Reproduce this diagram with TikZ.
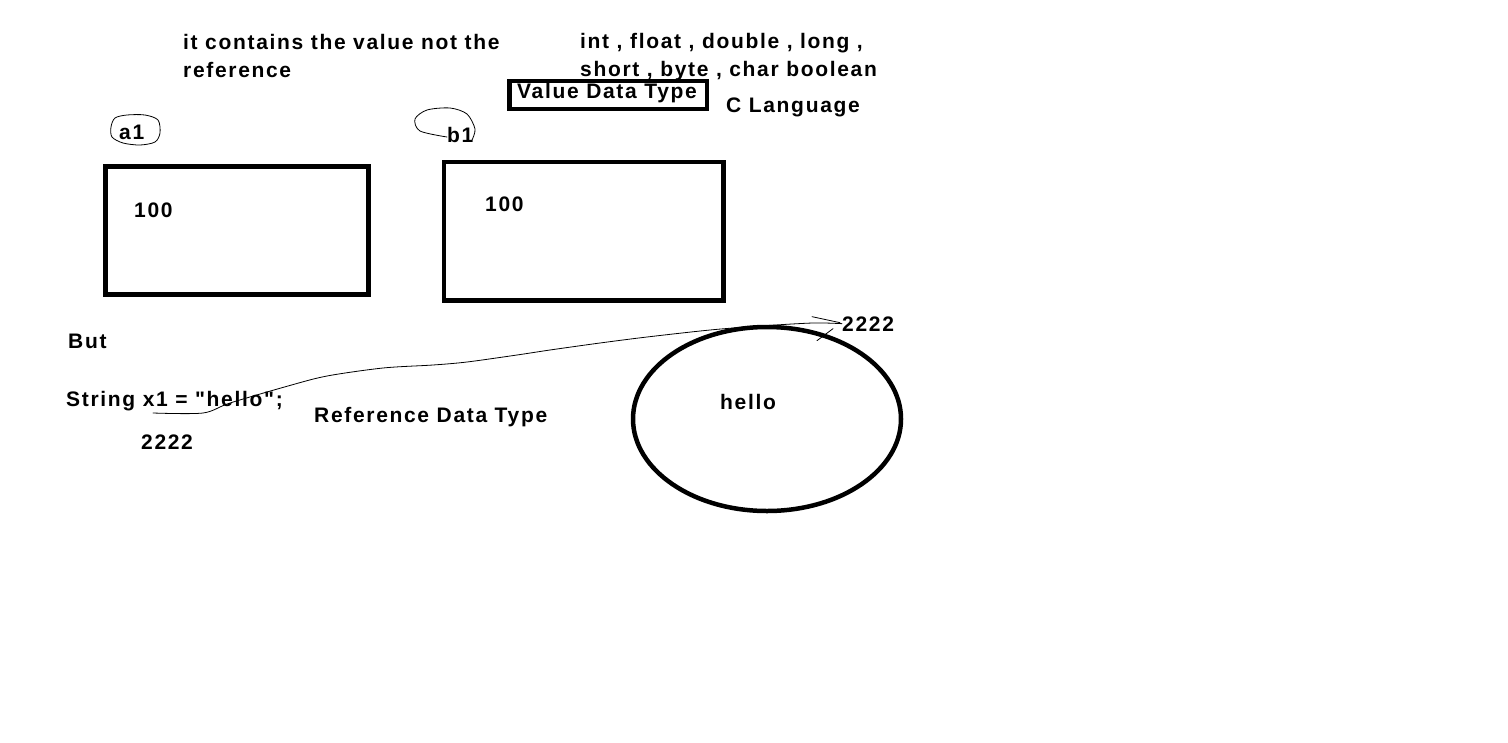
\documentclass[tikz,border=0pt]{standalone}
\usepackage{fontspec}
\setmainfont{Liberation Sans}[LetterSpace=8, Ligatures=TeXOff]
\usetikzlibrary{shapes.geometric}
\begin{document}
\begin{tikzpicture}[x=1pt,y=-1pt]
	\tikzset{txt/.style={anchor=base west, inner sep=0pt, font=\bfseries\fontsize{21}{28}\selectfont, align=left},
		cell/.style={draw, line width=4.5pt, inner sep=0pt},
		pen/.style={line width=0.8pt, line cap=round, line join=round}}
	\useasboundingbox (0,0) rectangle (1508,742);
	%Werttypen
	\node[txt] (note)  at (183,77) {it contains the value not the\\reference};
	\node[txt] (prim)  at (580,76) {int , float , double , long ,\\short , byte , char boolean};
	\node[cell, minimum width=197.5pt, minimum height=28pt] (vbox) at (608.25,95) {};
	\node[txt] (vdt)   at (517,98) {Value Data Type};
	\node[txt] (clang) at (726,112) {C Language};
	
	%Variablen
	\node[txt] (a1) at (119,139) {a1};
	\draw[pen] plot[smooth cycle] coordinates {(127,115) (145,115) (158,120) (160,133) (155,142) (140,145) (123,143) (112,137) (111,127) (115,118)};
	\node[txt] (b1) at (447,142) {b1};
	\draw[pen] plot[smooth] coordinates {(472,140) (475,129) (467,114) (450,108) (427,110) (415,119) (420,131) (447,137)};
	\node[cell, minimum width=263pt, minimum height=128pt] (boxa) at (237,230.5) {};
	\node[txt] (vala) at (134,217) {100};
	\node[cell, minimum width=279.5pt, minimum height=138.5pt] (boxb) at (583.75,231.25) {};
	\node[txt] (valb) at (485,211) {100};
	
	%Referenz
	\node[txt] (but)  at (68,348)  {But};
	\node[txt] (decl) at (66,406)  {String x1 = "hello";};
	\node[txt] (ref)  at (141,449) {2222};
	\node[txt] (rdt)  at (314,422) {Reference Data Type};
	\node[cell, ellipse, minimum width=268pt, minimum height=184pt] (heap) at (767,419) {};
	\node[txt] (hello) at (720,409) {hello};
	\node[txt] (addr)  at (842,331) {2222};
	\coordinate (xs) at (153,413);
	\draw[pen] plot[smooth] coordinates {(xs) (203,413) (230,403) (288,386) (327,376) (383,368) (433,365) (467,362) (517,355) (550,350) (600,343) (647,337) (710,330) (760,326) (813,323) (addr.west)};
	\draw[pen] (addr.west) ++(-30,-7) -- ++(28,6);
	\draw[pen] (addr.west) ++(-25,17) -- ++(16,-12);
	
\end{tikzpicture}
\end{document}
